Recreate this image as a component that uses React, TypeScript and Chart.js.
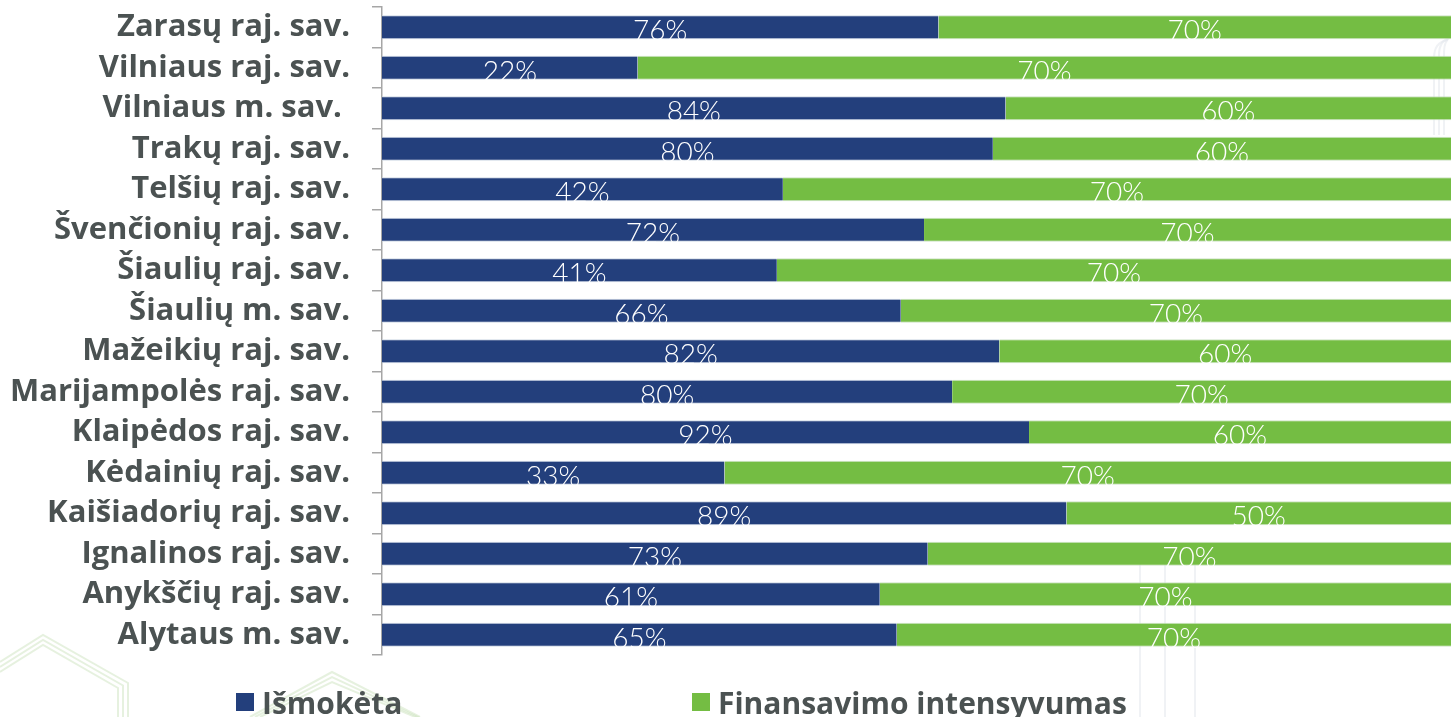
import React, { useEffect, useRef } from "react";
import { Chart, registerables } from "chart.js";

Chart.register(...registerables);

const categories = [
  "Zarasų raj. sav.",
  "Vilniaus raj. sav.",
  "Vilniaus m. sav. ",
  "Trakų raj. sav.",
  "Telšių raj. sav.",
  "Švenčionių raj. sav.",
  "Šiaulių raj. sav.",
  "Šiaulių m. sav.",
  "Mažeikių raj. sav.",
  "Marijampolės raj. sav.",
  "Klaipėdos raj. sav.",
  "Kėdainių raj. sav.",
  "Kaišiadorių raj. sav.",
  "Ignalinos raj. sav.",
  "Anykščių raj. sav.",
  "Alytaus m. sav.",
];

const ismoketa = [76, 22, 84, 80, 42, 72, 41, 66, 82, 80, 92, 33, 89, 73, 61, 65];
const intensyvumas = [70, 70, 60, 60, 70, 70, 70, 70, 60, 70, 60, 70, 50, 70, 70, 70];

const seriesNames = ["Išmokėta", "Finansavimo intensyvumas"];
const seriesColors = ["#233F7C", "#74BD43"];

const LABEL_FONT = "'Open Sans'";
const VALUE_FONT = "Lato";
const TEXT_COLOR = "#4b5252";

// 100% stacked shares built from the raw values
const shareOf = (a: number[], b: number[]) => a.map((v, i) => (v / (v + b[i])) * 100);

const bgDecor = {
  id: "bgDecor",
  beforeDraw(chart: any) {
    const ctx = chart.ctx;
    ctx.save();
    ctx.lineWidth = 2;
    ctx.strokeStyle = "rgba(200,225,185,0.45)";
    for (let k = 0; k < 3; k++) {
      const o = k * 5;
      ctx.beginPath();
      ctx.moveTo(0, 662 + o);
      ctx.lineTo(43, 635 + o);
      ctx.lineTo(128 - o, 683 + o * 0.5);
      ctx.lineTo(128 - o, 717);
      ctx.stroke();
      ctx.beginPath();
      ctx.moveTo(250 + o, 717);
      ctx.lineTo(332, 672 + o);
      ctx.lineTo(420, 717 + o * 0.2);
      ctx.stroke();
    }
    ctx.strokeStyle = "rgba(225,229,235,0.5)";
    for (let k = 0; k < 3; k++) {
      const x = 1434 + k * 5;
      ctx.beginPath();
      ctx.moveTo(x, 135);
      ctx.lineTo(x, 58 - k * 3);
      ctx.quadraticCurveTo(x, 42 - k * 3, x + 14, 40 - k * 3);
      ctx.stroke();
    }
    for (const x of [1140, 1165, 1195]) {
      ctx.beginPath();
      ctx.moveTo(x, 560);
      ctx.lineTo(x, 717);
      ctx.stroke();
    }
    ctx.restore();
  },
};

const valueLabels = {
  id: "valueLabels",
  afterDatasetsDraw(chart: any) {
    const ctx = chart.ctx;
    const raws = [ismoketa, intensyvumas];
    ctx.save();
    ctx.fillStyle = "#ffffff";
    ctx.font = `300 28px ${VALUE_FONT}`;
    ctx.textAlign = "center";
    ctx.textBaseline = "middle";
    chart.data.datasets.forEach((_: any, di: number) => {
      const meta = chart.getDatasetMeta(di);
      meta.data.forEach((el: any, i: number) => {
        const cx = (el.x + el.base) / 2;
        ctx.fillText(`${raws[di][i]}%`, cx, el.y + 4);
      });
    });
    ctx.restore();
  },
};

const customLegend = {
  id: "customLegend",
  afterDraw(chart: any) {
    const ctx = chart.ctx;
    const items = [
      { x: 236, text: seriesNames[0], color: seriesColors[0] },
      { x: 692, text: seriesNames[1], color: seriesColors[1] },
    ];
    ctx.save();
    ctx.font = `bold 30px ${LABEL_FONT}`;
    ctx.textBaseline = "alphabetic";
    ctx.textAlign = "left";
    for (const it of items) {
      ctx.fillStyle = it.color;
      ctx.fillRect(it.x, 693, 18, 18);
      ctx.fillStyle = TEXT_COLOR;
      ctx.fillText(it.text, it.x + 26, 714);
    }
    ctx.restore();
  },
};

export default function App() {
  const ref = useRef<HTMLCanvasElement>(null);
  useEffect(() => {
    if (!ref.current) return;
    const chart = new Chart(ref.current, {
      type: "bar",
      data: {
        labels: categories,
        datasets: [
          {
            label: seriesNames[0],
            data: shareOf(ismoketa, intensyvumas),
            backgroundColor: seriesColors[0],
            borderColor: "rgba(200,210,225,0.9)",
            borderWidth: { top: 1, bottom: 1, left: 0, right: 0 },
            borderSkipped: false,
            barPercentage: 0.59,
            categoryPercentage: 1,
          },
          {
            label: seriesNames[1],
            data: shareOf(intensyvumas, ismoketa),
            backgroundColor: seriesColors[1],
            borderColor: "rgba(200,225,190,0.9)",
            borderWidth: { top: 1, bottom: 1, left: 0, right: 0 },
            borderSkipped: false,
            barPercentage: 0.59,
            categoryPercentage: 1,
          },
        ],
      },
      options: {
        indexAxis: "y",
        animation: false,
        responsive: false,
        maintainAspectRatio: false,
        layout: { padding: { top: 7, bottom: 62, left: 0, right: 0 } },
        plugins: {
          legend: { display: false },
          tooltip: { enabled: false },
        },
        scales: {
          x: {
            stacked: true,
            min: 0,
            max: 100,
            display: false,
          },
          y: {
            stacked: true,
            afterFit: (s: any) => {
              s.width = 382;
              s.paddingTop = 0;
              s.paddingBottom = 0;
            },
            grid: {
              offset: true,
              drawOnChartArea: false,
              tickLength: 10,
              color: "#a6a6a6",
              lineWidth: 1.5,
            },
            border: { color: "#a6a6a6", width: 1.5 },
            ticks: {
              padding: 22,
              color: TEXT_COLOR,
              font: { family: LABEL_FONT, weight: "bold", size: 31 },
            },
          },
        },
      },
      plugins: [bgDecor, valueLabels, customLegend],
    });
    return () => chart.destroy();
  }, []);

  return (
    <div style={{ position: "absolute", left: 0, top: 0, width: 1451, height: 717, background: "#fff" }}>
      <canvas ref={ref} width={1451} height={717} style={{ width: 1451, height: 717 }} />
    </div>
  );
}
